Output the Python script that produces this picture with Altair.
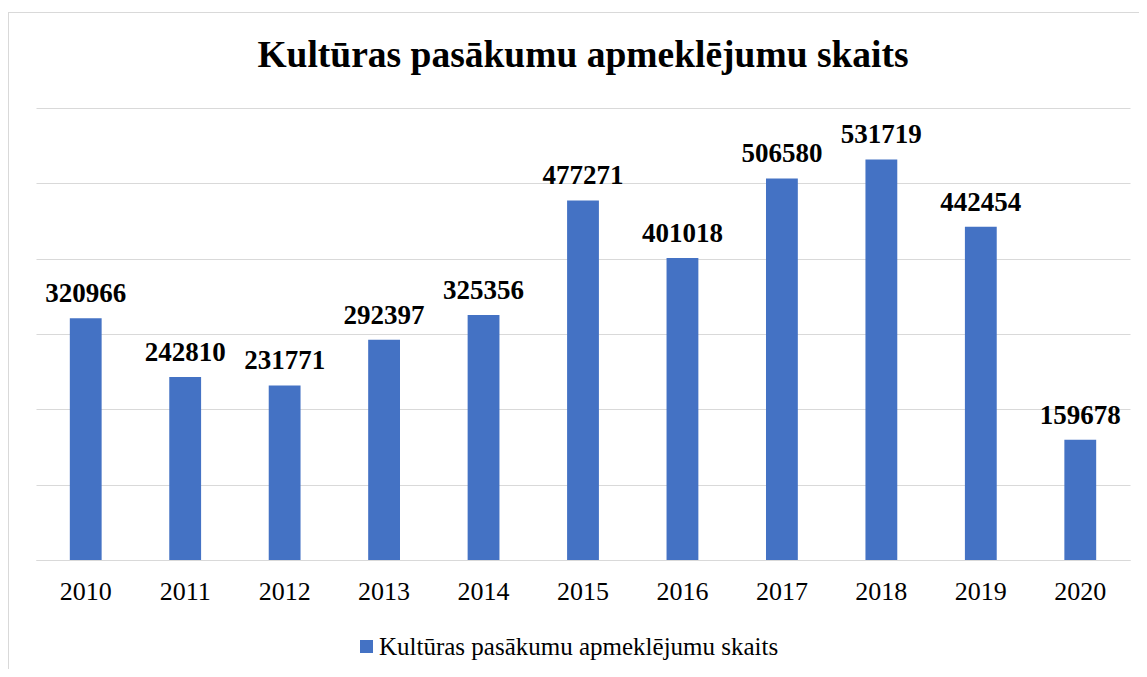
import altair as alt
import pandas as pd

years = ["2010", "2011", "2012", "2013", "2014", "2015", "2016", "2017", "2018", "2019", "2020"]
visits = [320966, 242810, 231771, 292397, 325356, 477271, 401018, 506580, 531719, 442454, 159678]
series_name = "Kultūras pasākumu apmeklējumu skaits"
title_text = "Kultūras pasākumu apmeklējumu skaits"
y_ticks = [0, 100000, 200000, 300000, 400000, 500000, 600000]

df = pd.DataFrame({"year": years, "value": visits, "series": [series_name] * len(years)})

FONT = "Liberation Serif"
W, H = 1094, 452

x_enc = alt.X("year:N", sort=years, title=None,
              scale=alt.Scale(paddingInner=0.68, paddingOuter=0.34),
              axis=alt.Axis(labelAngle=0, labelFont=FONT, labelFontSize=26, labelColor="#000000",
                            ticks=False, domainColor="#d9d9d9", domainWidth=1, labelPadding=18))
y_enc = alt.Y("value:Q", title=None,
              scale=alt.Scale(domain=[0, 600000], nice=False),
              axis=alt.Axis(values=y_ticks, labels=False, ticks=False, domain=False,
                            grid=True, gridColor="#d9d9d9", gridWidth=1))

base = alt.Chart(df)

bars = base.mark_bar(color="#4472C4").encode(
    x=x_enc,
    y=y_enc,
    color=alt.Color("series:N", title=None,
                    scale=alt.Scale(domain=[series_name], range=["#4472C4"]),
                    legend=alt.Legend(orient="none", legendX=318, legendY=526,
                                      symbolType="square", symbolSize=170, symbolStrokeWidth=0,
                                      labelFont=FONT, labelFontSize=25, labelColor="#000000",
                                      labelLimit=600, symbolOffset=0, labelOffset=0)),
)

labels = base.mark_text(font=FONT, fontSize=27, fontWeight="bold", color="#000000",
                        baseline="alphabetic", dy=-16).encode(
    x=alt.X("year:N", sort=years),
    y=alt.Y("value:Q"),
    text=alt.Text("value:Q", format="d"),
)

one_row = alt.Data(values=[{"t": title_text}])
title_mark = alt.Chart(one_row).mark_text(font=FONT, fontSize=37.5, fontWeight="bold",
                                          color="#000000", baseline="alphabetic",
                                          align="center").encode(
    x=alt.value(W / 2), y=alt.value(-41), text="t:N")

frame_v = alt.Chart(one_row).mark_rule(color="#d9d9d9", strokeWidth=1).encode(
    x=alt.value(-27.5), y=alt.value(-96), y2=alt.value(578))
frame_h = alt.Chart(one_row).mark_rule(color="#d9d9d9", strokeWidth=1).encode(
    x=alt.value(-28), x2=alt.value(1110), y=alt.value(-95.5))

chart = alt.layer(frame_v, frame_h, bars, labels, title_mark).properties(
    width=W, height=H,
    autosize=alt.AutoSizeParams(type="none"),
    padding={"left": 28, "top": 100, "right": 9, "bottom": 109},
).configure_view(stroke=None).configure_legend(
    labelFont=FONT, labelFontSize=25, labelColor="#000000"
).configure_text(font=FONT)

chart.save("out.html", embed_options={"renderer": "svg", "actions": False})
